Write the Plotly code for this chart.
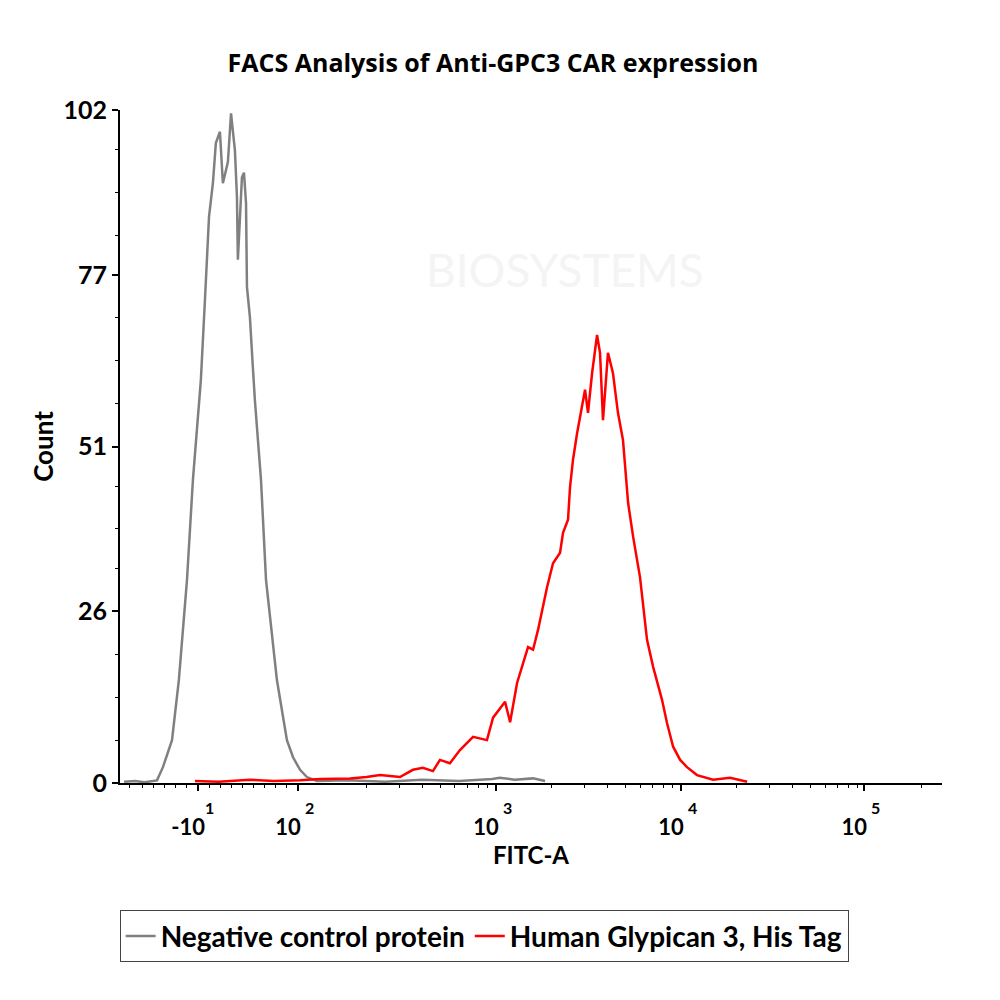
import numpy as np
import plotly.graph_objects as go

# ---- data (x in display "decade" units of the biexponential FITC-A scale) ----
neg_x = [0.99, 1.05, 1.10, 1.15, 1.168, 1.20, 1.249, 1.286, 1.330, 1.362, 1.405, 1.427, 1.449,
         1.470, 1.486, 1.508, 1.524, 1.551, 1.568, 1.589, 1.600, 1.605, 1.627, 1.638, 1.649,
         1.654, 1.670, 1.686, 1.697, 1.730, 1.757, 1.816, 1.870, 1.903, 1.941, 1.978, 2.032,
         2.20, 2.40, 2.60, 2.80, 2.98, 3.02, 3.10, 3.20, 3.265]
neg_y = [0.2, 0.3, 0.1, 0.3, 0.4, 2.4, 6.5, 15.6, 30.8, 45.9, 61.1, 73.2, 85.8,
         90.9, 97.0, 98.7, 90.9, 94.1, 101.5, 95.9, 88.8, 79.3, 91.8, 92.5, 87.9,
         75.2, 70.6, 63.0, 58.0, 45.9, 30.8, 15.6, 6.5, 3.9, 2.0, 0.9, 0.3,
         0.4, 0.2, 0.5, 0.3, 0.6, 0.8, 0.5, 0.7, 0.3]

gpc3_x = [1.373, 1.50, 1.67, 1.80, 1.941, 2.05, 2.211, 2.30, 2.373, 2.43, 2.481, 2.551, 2.605,
          2.659, 2.697, 2.751, 2.805, 2.876, 2.951, 2.984, 3.049, 3.076, 3.114, 3.173, 3.200,
          3.227, 3.276, 3.308, 3.346, 3.362, 3.389, 3.400, 3.416, 3.438, 3.465, 3.481, 3.497,
          3.519, 3.546, 3.562, 3.578, 3.605, 3.632, 3.659, 3.686, 3.714, 3.741, 3.778, 3.816,
          3.849, 3.897, 3.924, 3.957, 3.995, 4.032, 4.086, 4.173, 4.265, 4.357]
gpc3_y = [0.3, 0.2, 0.5, 0.3, 0.4, 0.6, 0.7, 0.9, 1.2, 1.0, 0.9, 2.0, 2.3,
          1.8, 3.5, 3.0, 5.0, 7.0, 6.5, 9.9, 12.3, 9.2, 15.2, 20.6, 20.2,
          23.2, 29.7, 33.3, 34.9, 37.9, 39.9, 44.9, 49.0, 53.0, 57.0, 59.6, 56.1,
          62.1, 67.9, 65.2, 55.0, 65.2, 62.1, 56.1, 52.0, 42.4, 37.3, 31.2, 21.7,
          17.6, 12.6, 9.1, 5.5, 3.5, 2.4, 1.2, 0.5, 0.8, 0.2]

x_tickvals = [1.39, 1.93, 3.0, 4.0, 4.99]
x_ticktext = ["-10", "10", "10", "10", "10"]
x_exponents = ["1", "2", "3", "4", "5"]
y_tickvals = [0, 26, 51, 77, 102]
y_ticktext = ["0", "26", "51", "77", "102"]

series_names = ["Negative control protein", "Human Glypican 3, His Tag"]
series_colors = ["#808080", "#ff0000"]

# minor tick positions
x_minor = []
for d in [2, 3, 4]:
    for k in range(2, 10):
        x_minor.append(d + np.log10(k))
x_minor += [5 + np.log10(2), 5 + np.log10(3)]
x_minor += [1.02, 1.09, 1.15, 1.21, 1.27, 1.33, 1.45, 1.51, 1.57, 1.63, 1.69, 1.75, 1.81, 1.87]
y_minor = [6.5, 13, 19.5, 32.5, 38.5, 45, 57.5, 64, 70.5, 83, 89.5, 96]

FONT = "Lato"

fig = go.Figure()
fig.add_trace(go.Scatter(x=neg_x, y=neg_y, mode="lines", name=series_names[0],
                         line=dict(color=series_colors[0], width=2.5)))
fig.add_trace(go.Scatter(x=gpc3_x, y=gpc3_y, mode="lines", name=series_names[1],
                         line=dict(color=series_colors[1], width=2.5)))

# exponent labels above the "10"s
for tv, e in zip(x_tickvals, x_exponents):
    fig.add_annotation(x=tv, y=0, xref="x", yref="paper", text=f"<b>{e}</b>",
                       showarrow=False, xshift=11, yshift=-24, yanchor="middle",
                       xanchor="center",
                       font=dict(family=FONT, size=16, color="black"))

# faint watermark
fig.add_annotation(x=0.541, y=0.807, xref="paper", yref="paper", text="BIOSYSTEMS",
                   showarrow=False, font=dict(family=FONT, size=46, color="#f4f4f4"))

fig.update_layout(
    width=1000, height=1000,
    paper_bgcolor="white", plot_bgcolor="white",
    margin=dict(l=112, r=66, t=102, b=225),
    title=dict(text="<b>FACS Analysis of Anti-GPC3 CAR expression</b>", x=0.485, xanchor="center",
               y=0.945, yanchor="middle", font=dict(family="Open Sans", size=25, color="black")),
    showlegend=True,
    legend=dict(orientation="h", x=0.443, xanchor="center", y=-0.189, yanchor="top",
                bordercolor="#444444", borderwidth=1, bgcolor="white",
                font=dict(family=FONT, size=28, color="black", weight="bold"),
                itemwidth=30),
    xaxis=dict(range=[0.968, 5.41], showgrid=False, zeroline=False,
               showline=True, linecolor="black", linewidth=2,
               ticks="outside", ticklen=6, tickwidth=2, tickcolor="black",
               tickmode="array", tickvals=x_tickvals, ticktext=x_ticktext,
               ticklabelstandoff=18, ticklabelshift=-10,
               tickfont=dict(family=FONT, size=22, color="black", weight="bold"),
               minor=dict(tickmode="array", tickvals=x_minor, ticks="outside", ticklen=3,
                          tickwidth=1, tickcolor="black"),
               title=dict(text="<b>FITC-A</b>", standoff=4,
                          font=dict(family=FONT, size=24, color="black"))),
    yaxis=dict(range=[0, 102], showgrid=False, zeroline=False,
               showline=True, linecolor="black", linewidth=2,
               ticks="outside", ticklen=6, tickwidth=1.5, tickcolor="black",
               tickmode="array", tickvals=y_tickvals, ticktext=y_ticktext,
               tickfont=dict(family=FONT, size=25, color="black", weight="bold"),
               minor=dict(tickmode="array", tickvals=y_minor, ticks="outside", ticklen=3,
                          tickwidth=1, tickcolor="black"),
               title=dict(text="<b>Count</b>", standoff=2,
                          font=dict(family=FONT, size=26, color="black"))),
)

fig.write_html("out.html")
